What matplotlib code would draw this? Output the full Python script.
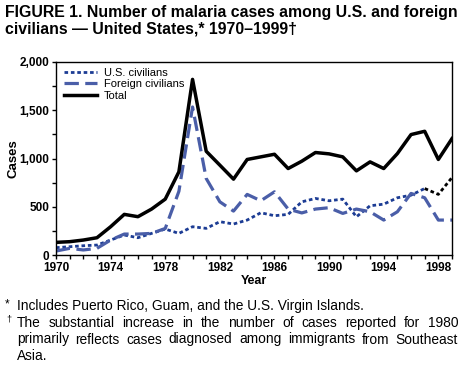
import numpy as np
import matplotlib.pyplot as plt
from matplotlib.ticker import MultipleLocator, FixedLocator, FuncFormatter

plt.rcParams['font.family'] = ['Liberation Sans', 'DejaVu Sans']

years = np.arange(1970, 2000)
year_ticks = [1970, 1974, 1978, 1982, 1986, 1990, 1994, 1998]

# values
us_civ = [76, 86, 96, 103, 155, 207, 179, 224, 269, 224,
          293, 276, 345, 321, 362, 438, 407, 421, 551, 586,
          562, 579, 396, 510, 527, 593, 620, 689, 628, 803]
foreign_civ = [41, 69, 52, 69, 155, 217, 217, 224, 275, 660,
               1534, 793, 551, 455, 628, 562, 655, 476, 436, 476,
               490, 431, 476, 448, 362, 448, 638, 593, 362, 362]
total = [131, 138, 155, 179, 293, 421, 397, 476, 579, 862,
         1820, 1075, 931, 786, 990, 1017, 1044, 896, 972, 1062,
         1048, 1017, 872, 965, 896, 1051, 1248, 1282, 990, 1206]

us_color = '#1c3c94'
fg_color = '#4a5ea8'

W, H = 469, 369
fig = plt.figure(figsize=(W / 100, H / 100), dpi=100)
ax = fig.add_axes([56 / W, 1 - 255 / H, (452 - 56) / W, (255 - 62) / H])

ax.plot(years[:28], us_civ[:28], color=us_color, lw=2, ls=(0, (1.3, 1.0)),
        label='U.S. civilians')
# last stretch of the U.S. series is drawn in black in the original
ax.plot(years[27:], us_civ[27:], color='black', lw=2, ls=(0, (1.3, 1.0)))
ax.plot(years, foreign_civ, color=fg_color, lw=2.3, ls=(0, (4.5, 2)),
        label='Foreign civilians')
ax.plot(years, total, color='black', lw=2.5, label='Total')

ax.set_xlim(1970, 1999)
ax.set_ylim(0, 2000)
ax.xaxis.set_major_locator(FixedLocator(year_ticks))
ax.xaxis.set_minor_locator(MultipleLocator(1))
ax.yaxis.set_major_locator(MultipleLocator(500))
ax.yaxis.set_minor_locator(MultipleLocator(250))
ax.yaxis.set_major_formatter(FuncFormatter(lambda v, p: f'{int(v):,}'))
ax.tick_params(which='both', direction='out', length=3, width=1, labelsize=8.5, pad=2)
for lab in ax.get_xticklabels() + ax.get_yticklabels():
    lab.set_fontweight('bold')
for s in ax.spines.values():
    s.set_linewidth(1)

ax.set_xlabel('Year', fontsize=9, fontweight='bold', labelpad=1)
ax.set_ylabel('Cases', fontsize=9.5, fontweight='bold')
ax.yaxis.set_label_coords(-0.092, 0.5)

ax.legend(loc='upper left', frameon=False, fontsize=8, handlelength=3.0,
          handletextpad=0.6, labelspacing=0.12, borderaxespad=0.3,
          bbox_to_anchor=(0.0, 1.01))

fig.text(5 / W, 1 - 5 / H, 'FIGURE 1. Number of malaria cases among U.S. and foreign\n'
         'civilians \u2014 United States,* 1970\u20131999\u2020',
         fontsize=11.4, fontweight='bold', va='top', ha='left', linespacing=1.12)

# footnotes (second one is justified like the original)
fs = 9.9
fig.text(5 / W, 1 - 298 / H, '*', fontsize=8.5, va='top')
fig.text(17 / W, 1 - 299 / H, 'Includes Puerto Rico, Guam, and the U.S. Virgin Islands.',
         fontsize=fs, va='top')
fig.text(6 / W, 1 - 314 / H, '\u2020', fontsize=6.5, va='top')

note_lines = ['The substantial increase in the number of cases reported for 1980',
              'primarily reflects cases diagnosed among immigrants from Southeast',
              'Asia.']
x0, x1 = 17, 458
renderer = fig.canvas.get_renderer()
for i, line in enumerate(note_lines):
    y = 1 - (316 + i * 16.5) / H
    words = line.split()
    if i == len(note_lines) - 1:
        fig.text(x0 / W, y, line, fontsize=fs, va='top')
        continue
    widths = []
    for w in words:
        t = fig.text(0, 0, w, fontsize=fs)
        widths.append(t.get_window_extent(renderer).width)
        t.remove()
    gap = (x1 - x0 - sum(widths)) / (len(words) - 1)
    x = x0
    for w, wd in zip(words, widths):
        fig.text(x / W, y, w, fontsize=fs, va='top')
        x += wd + gap

fig.savefig('out.png', dpi=100)
